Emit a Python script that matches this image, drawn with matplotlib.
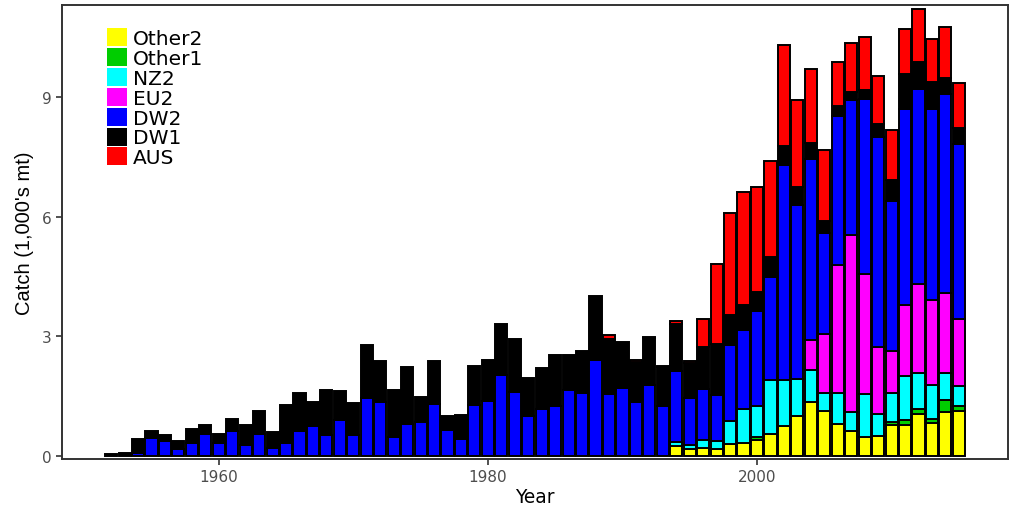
import numpy as np
import matplotlib
matplotlib.use("Agg")
import matplotlib.pyplot as plt
from matplotlib.patches import Patch

plt.rcParams['font.family'] = ['DejaVu Sans']

# catch by fleet, 1,000's mt, 1952-2015
years = list(range(1952, 2016))

other2 = [0]*42 + [0.25, 0.17, 0.20, 0.16, 0.30, 0.33, 0.40, 0.55,
                   0.75, 1.00, 1.35, 1.12, 0.80, 0.62, 0.47, 0.50,
                   0.78, 0.78, 1.05, 0.82, 1.10, 1.12]
other1 = [0]*42 + [0, 0, 0, 0, 0, 0, 0.08, 0,
                   0, 0, 0, 0, 0, 0, 0, 0,
                   0.08, 0.12, 0.12, 0.10, 0.30, 0.12]
nz2 = [0]*42 + [0.10, 0.10, 0.20, 0.22, 0.58, 0.84, 0.78, 1.34,
                1.15, 0.93, 0.80, 0.45, 0.78, 0.48, 1.09, 0.55,
                0.72, 1.10, 0.90, 0.85, 0.67, 0.52]
eu2 = [0]*52 + [0.75, 1.48, 3.20, 4.43, 3.00, 1.69,
                1.05, 1.77, 2.25, 2.13, 2.01, 1.66]
dw2 = [0, 0, 0.08, 0.44, 0.38, 0.16, 0.33, 0.55, 0.33, 0.62,
       0.28, 0.55, 0.20, 0.33, 0.63, 0.75, 0.53, 0.89, 0.53, 1.44,
       1.36, 0.48, 0.80, 0.86, 1.31, 0.65, 0.41, 1.28, 1.37, 2.02,
       1.59, 1.00, 1.17, 1.26, 1.66, 1.57, 2.40, 1.56, 1.69, 1.36,
       1.77, 1.26, 1.78, 1.19, 1.28, 1.15, 1.89, 1.98, 2.38, 2.60,
       5.40, 4.37, 4.53, 2.53, 3.73, 3.38, 4.38, 5.26, 3.77, 4.92,
       4.88, 4.80, 5.00, 4.40]
dw1 = [0.05, 0.08, 0.34, 0.17, 0.14, 0.21, 0.34, 0.22, 0.21, 0.30,
       0.49, 0.57, 0.39, 0.95, 0.95, 0.60, 1.12, 0.73, 0.79, 1.33,
       1.02, 1.17, 1.42, 0.62, 1.07, 0.35, 0.61, 0.97, 1.03, 1.29,
       1.34, 0.95, 1.03, 1.28, 0.86, 1.05, 1.60, 1.38, 1.17, 0.99,
       1.18, 0.96, 1.17, 0.86, 1.06, 1.28, 0.75, 0.62, 0.46, 0.50,
       0.48, 0.43, 0.41, 0.31, 0.25, 0.21, 0.24, 0.32, 0.52, 0.88,
       0.67, 0.66, 0.40, 0.39]
aus = [0]*37 + [0.08, 0, 0.05, 0.03, 0.03, 0.07, 0.05, 0.70, 1.99,
                2.56, 2.84, 2.64, 2.40, 2.51, 2.19, 1.86, 1.79, 1.12,
                1.23, 1.33, 1.21, 1.24, 1.12, 1.33, 1.09, 1.26, 1.14]

names = ['Other2', 'Other1', 'NZ2', 'EU2', 'DW2', 'DW1', 'AUS']
series = [other2, other1, nz2, eu2, dw2, dw1, aus]
colours = ['#FFFF00', '#00CD00', '#00FFFF', '#FF00FF', '#0000FF', '#000000', '#FF0000']

fig = plt.figure(figsize=(10.12, 5.10), dpi=100)
ax = fig.add_axes([0.0613, 0.098, 0.9347, 0.89])

x = np.array(years)
bottom = np.zeros(len(years))
for vals, col in zip(series, colours):
    v = np.array(vals, dtype=float)
    keep = v > 0
    ax.bar(x[keep], v[keep], bottom=bottom[keep], width=0.9,
           color=col, edgecolor='black', linewidth=1.4, zorder=2)
    bottom += v

ax.set_xlim(1948.35, 2018.65)
ax.set_ylim(-0.08, 11.3)
ax.set_xticks([1960, 1980, 2000])
ax.set_yticks([0, 3, 6, 9])

for sp in ax.spines.values():
    sp.set_color('#333333')
    sp.set_linewidth(1.4)
ax.tick_params(colors='#333333', labelcolor='#4D4D4D', labelsize=11,
               length=4, width=1.2)
ax.set_xlabel('Year', fontsize=13.4, labelpad=2)
ax.set_ylabel("Catch (1,000's mt)", fontsize=14.5, labelpad=6,
              family='Liberation Sans')

handles = [Patch(facecolor=c, edgecolor='none') for c in colours]
fig.legend(handles, names, loc='upper left',
           bbox_to_anchor=(107 / 1012, 1 - 29 / 510), frameon=False,
           fontsize=14.5, handlelength=1.0, handleheight=1.0,
           labelspacing=0.0, handletextpad=0.3, borderpad=0,
           borderaxespad=0)

fig.savefig('out.png', dpi=100)
